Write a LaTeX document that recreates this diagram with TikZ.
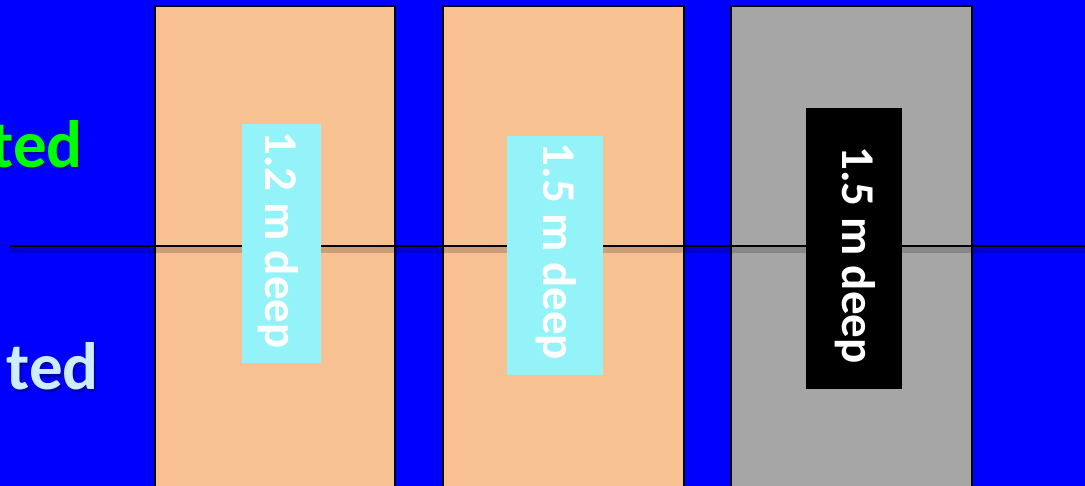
\documentclass[tikz,border=0pt]{standalone}
\usepackage{fontspec}
\setmainfont{Carlito}
\definecolor{bgblue}{RGB}{0,0,255}
\definecolor{peach}{RGB}{248,193,146}
\definecolor{greybox}{RGB}{166,166,166}
\definecolor{cyanbox}{RGB}{147,243,248}
\definecolor{greentext}{RGB}{0,255,0}
\definecolor{lightcyantext}{RGB}{204,236,255}
\definecolor{shadowblue}{RGB}{0,0,120}
\tikzset{
  pit/.style={draw=black, line width=2.5pt},
  depthlabel/.style={rotate=-90, inner sep=0pt, text=white, font=\bfseries\fontsize{47}{47}\selectfont},
  sidetext/.style={anchor=base east, inner sep=0pt, font=\bfseries\fontsize{67}{67}\selectfont},
}
\begin{document}
\begin{tikzpicture}[x=1pt,y=-1pt]
\useasboundingbox (0,0) rectangle (1085,486);
\fill[bgblue] (0,0) rectangle (1085,486);
\clip (0,0) rectangle (1085,486);
% side texts with shadow
\node[sidetext, text=shadowblue, opacity=0.6] (s1s) at (85,170) {ted};
\node[sidetext, text=greentext] (s1) at (83,168) {ted};
\node[sidetext, text=shadowblue, opacity=0.6] (s2s) at (101,392) {ted};
\node[sidetext, text=lightcyantext] (s2) at (99,390) {ted};
% pits
\draw[pit, fill=peach] (155,6) rectangle (395,500);
\draw[pit, fill=peach] (443,6) rectangle (684,500);
\draw[pit, fill=greybox] (731,6) rectangle (972,500);
% ground line with shadow below
\coordinate (la) at (10,246);
\coordinate (lb) at (1085,246);
\draw[line width=6pt, black, opacity=0.18] ([yshift=-4pt]la) -- ([yshift=-4pt]lb);
\draw[line width=2.5pt, black] (la) -- (lb);
% depth label boxes
\fill[cyanbox] (242,124) rectangle (321,363);
\fill[cyanbox] (507,136) rectangle (603,375);
\fill[black] (806,108) rectangle (902,389);
% depth labels
\node[depthlabel] (d1) at (278,240) {1.2 m deep};
\node[depthlabel] (d2) at (556,251.5) {1.5 m deep};
\node[depthlabel] (d3) at (855,255) {1.5 m deep};
\end{tikzpicture}
\end{document}
